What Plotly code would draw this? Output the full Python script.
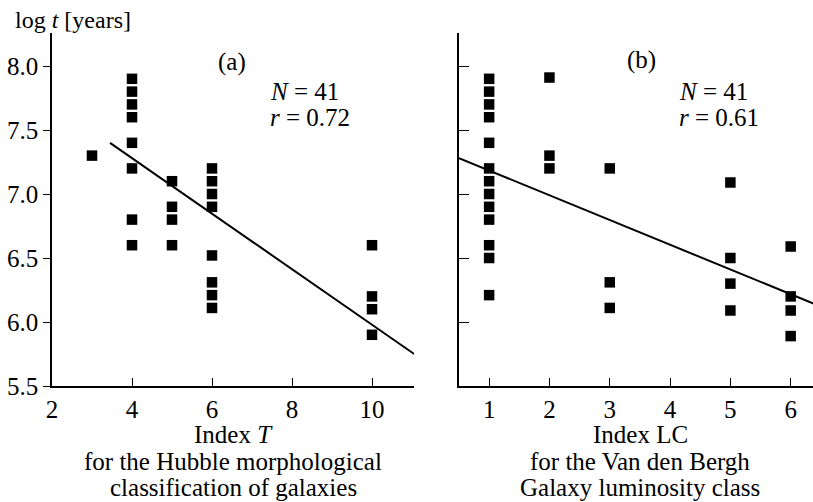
import plotly.graph_objects as go

# Panel (a): Hubble morphological index T vs log age
t_index = [3, 4, 4, 4, 4, 4, 4, 4, 4, 5, 5, 5, 5,
           6, 6, 6, 6, 6, 6, 6, 6, 10, 10, 10, 10]
log_t_a = [7.3, 7.9, 7.8, 7.7, 7.6, 7.4, 7.2, 6.8, 6.6, 7.1, 6.9, 6.8, 6.6,
           7.2, 7.1, 7.0, 6.9, 6.52, 6.31, 6.21, 6.11, 6.6, 6.2, 6.1, 5.9]
fit_a_x = [3.45, 11.1]
fit_a_y = [7.40, 5.74]

# Panel (b): Van den Bergh luminosity class LC vs log age
lc_index = [1, 1, 1, 1, 1, 1, 1, 1, 1, 1, 1, 1, 1,
            2, 2, 2, 3, 3, 3, 5, 5, 5, 5, 6, 6, 6, 6]
log_t_b = [7.9, 7.8, 7.7, 7.6, 7.4, 7.2, 7.1, 7.0, 6.9, 6.8, 6.6, 6.5, 6.21,
           7.91, 7.3, 7.2, 7.2, 6.31, 6.11, 7.09, 6.5, 6.3, 6.09,
           6.59, 6.2, 6.09, 5.89]
fit_b_x = [0.5, 6.4]
fit_b_y = [7.28, 6.14]

y_ticks = [5.5, 6.0, 6.5, 7.0, 7.5, 8.0]
y_ticktext = ["5.5", "6.0", "6.5", "7.0", "7.5", "8.0"]
x_ticks_a = [2, 4, 6, 8, 10]
x_ticks_b = [1, 2, 3, 4, 5, 6]

FONT = "Liberation Serif"
TICK_FS = 25
NOTE_FS = 25
CAP_FS = 25

fig = go.Figure()
marker = dict(symbol="square", size=10.5, color="black")
fig.add_trace(go.Scatter(x=t_index, y=log_t_a, mode="markers", marker=marker,
                         xaxis="x", yaxis="y", showlegend=False))
fig.add_trace(go.Scatter(x=fit_a_x, y=fit_a_y, mode="lines",
                         line=dict(color="black", width=2),
                         xaxis="x", yaxis="y", showlegend=False))
fig.add_trace(go.Scatter(x=lc_index, y=log_t_b, mode="markers", marker=marker,
                         xaxis="x2", yaxis="y2", showlegend=False))
fig.add_trace(go.Scatter(x=fit_b_x, y=fit_b_y, mode="lines",
                         line=dict(color="black", width=2),
                         xaxis="x2", yaxis="y2", showlegend=False))

axis_common = dict(showgrid=False, zeroline=False, showline=True,
                   linecolor="black", linewidth=1.5, tickcolor="black",
                   tickwidth=1.3,
                   tickfont=dict(family=FONT, size=TICK_FS, color="black"))

fig.update_layout(
    width=813, height=502,
    margin=dict(l=52, r=0, t=33, b=116),
    paper_bgcolor="white", plot_bgcolor="white",
    font=dict(family=FONT, size=TICK_FS, color="black"),
    xaxis=dict(domain=[0, 0.4757], range=[2, 11.05], tickvals=x_ticks_a,
               ticks="inside", ticklen=8, anchor="y", **axis_common),
    yaxis=dict(domain=[0, 1], range=[5.5, 8.258], tickvals=y_ticks,
               ticktext=y_ticktext, ticks="outside", ticklen=7,
               anchor="x", **axis_common),
    xaxis2=dict(domain=[0.5348, 1], range=[0.5, 6.37], tickvals=x_ticks_b,
                ticks="inside", ticklen=8, anchor="y2", **axis_common),
    yaxis2=dict(domain=[0, 1], range=[5.5, 8.258], tickvals=y_ticks,
                showticklabels=False, ticks="inside", ticklen=10,
                anchor="x2", **axis_common),
)


def note(text, x, y, xref, yref, size, xanchor="left", yanchor="middle"):
    fig.add_annotation(text=text, x=x, y=y, xref=xref, yref=yref,
                       xanchor=xanchor, yanchor=yanchor, showarrow=False,
                       font=dict(family=FONT, size=size, color="black"))


# panel labels and statistics
note("(a)", 6.5, 8.03, "x", "y", NOTE_FS, xanchor="center")
note("<i>N</i> = 41", 7.39, 7.80, "x", "y", NOTE_FS)
note("<i>r</i> = 0.72", 7.39, 7.60, "x", "y", NOTE_FS)
note("(b)", 3.53, 8.05, "x2", "y2", NOTE_FS, xanchor="center")
note("<i>N</i> = 41", 4.11, 7.80, "x2", "y2", NOTE_FS)
note("<i>r</i> = 0.61", 4.11, 7.60, "x2", "y2", NOTE_FS)

# y-axis title
note("log <i>t</i> [years]", -0.051, 1.037, "paper", "paper", 24)

# x-axis captions
cap_a = ["Index <i>T</i>", "for the Hubble morphological", "classification of galaxies"]
cap_b = ["Index LC", "for the Van den Bergh", "Galaxy luminosity class"]
for i, (ta, tb) in enumerate(zip(cap_a, cap_b)):
    yy = (386 - (435 + 26 * i)) / 353
    note(ta, 0.238, yy, "paper", "paper", CAP_FS, xanchor="center")
    note(tb, 0.773, yy, "paper", "paper", CAP_FS, xanchor="center")

fig.write_html("out.html")
